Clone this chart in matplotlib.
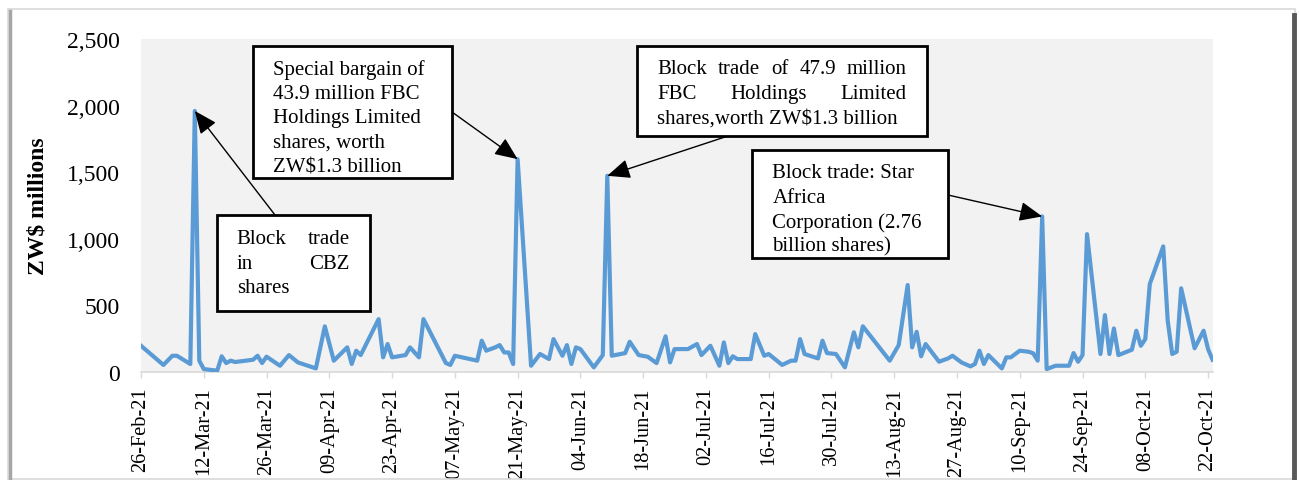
import matplotlib
matplotlib.use("Agg")
import matplotlib.pyplot as plt
import matplotlib.dates as mdates
import pandas as pd
from matplotlib.patches import Rectangle
from matplotlib.lines import Line2D
from matplotlib.ticker import FuncFormatter

plt.rcParams['font.family'] = ['Liberation Serif', 'DejaVu Serif']

# daily value traded, ZW$ millions
dates = [
    "2021-02-26", "2021-03-01", "2021-03-03", "2021-03-05", "2021-03-06", "2021-03-09",
    "2021-03-10", "2021-03-11", "2021-03-12", "2021-03-15", "2021-03-16", "2021-03-17",
    "2021-03-18", "2021-03-19", "2021-03-23", "2021-03-24", "2021-03-25", "2021-03-26",
    "2021-03-29", "2021-03-31", "2021-04-02", "2021-04-06", "2021-04-08", "2021-04-10",
    "2021-04-13", "2021-04-14", "2021-04-15", "2021-04-16", "2021-04-20", "2021-04-21",
    "2021-04-22", "2021-04-23", "2021-04-26", "2021-04-27", "2021-04-29", "2021-04-30",
    "2021-05-05", "2021-05-06", "2021-05-07", "2021-05-12", "2021-05-13", "2021-05-14",
    "2021-05-16", "2021-05-17", "2021-05-18", "2021-05-19", "2021-05-20", "2021-05-21",
    "2021-05-24", "2021-05-26", "2021-05-28", "2021-05-29", "2021-05-31", "2021-06-01",
    "2021-06-02", "2021-06-03", "2021-06-04", "2021-06-07", "2021-06-09", "2021-06-10",
    "2021-06-11", "2021-06-14", "2021-06-15", "2021-06-17", "2021-06-19", "2021-06-21",
    "2021-06-23", "2021-06-24", "2021-06-25", "2021-06-28", "2021-06-30", "2021-07-01",
    "2021-07-03", "2021-07-05", "2021-07-06", "2021-07-07", "2021-07-08", "2021-07-09",
    "2021-07-12", "2021-07-13", "2021-07-15", "2021-07-16", "2021-07-19", "2021-07-21",
    "2021-07-22", "2021-07-23", "2021-07-24", "2021-07-27", "2021-07-28", "2021-07-29",
    "2021-07-31", "2021-08-02", "2021-08-04", "2021-08-05", "2021-08-06", "2021-08-12",
    "2021-08-14", "2021-08-16", "2021-08-17", "2021-08-18", "2021-08-19", "2021-08-20",
    "2021-08-23", "2021-08-25", "2021-08-26", "2021-08-28", "2021-08-30", "2021-08-31",
    "2021-09-01", "2021-09-02", "2021-09-03", "2021-09-06", "2021-09-07", "2021-09-08",
    "2021-09-10", "2021-09-12", "2021-09-13", "2021-09-14", "2021-09-15", "2021-09-16",
    "2021-09-18", "2021-09-21", "2021-09-22", "2021-09-23", "2021-09-24", "2021-09-25",
    "2021-09-28", "2021-09-29", "2021-09-30", "2021-10-01", "2021-10-02", "2021-10-05",
    "2021-10-06", "2021-10-07", "2021-10-08", "2021-10-09", "2021-10-12", "2021-10-13",
    "2021-10-14", "2021-10-15", "2021-10-16", "2021-10-19", "2021-10-21", "2021-10-22",
    "2021-10-23",
]
values = [
    197, 110, 53, 122, 122, 60,
    1960, 85, 22, 10, 118, 67,
    85, 75, 92, 122, 67, 115,
    47, 127, 72, 27, 343, 85,
    185, 60, 160, 127, 397, 110,
    210, 110, 127, 185, 110, 397,
    67, 53, 122, 85, 235, 160,
    185, 202, 147, 147, 60, 1598,
    47, 135, 97, 247, 122, 202,
    60, 185, 172, 35, 127, 1473,
    122, 142, 227, 127, 115, 67,
    268, 72, 172, 172, 210, 127,
    197, 47, 222, 67, 118, 97,
    97, 285, 122, 135, 53, 85,
    85, 247, 135, 102, 235, 142,
    135, 35, 298, 185, 343, 85,
    202, 653, 185, 302, 118, 210,
    77, 102, 122, 72, 42, 60,
    160, 60, 127, 27, 110, 110,
    160, 152, 140, 85, 1168, 22,
    47, 47, 142, 77, 127, 1035,
    135, 427, 135, 327, 127, 167,
    310, 197, 247, 660, 943, 385,
    135, 152, 628, 178, 310, 172,
    92,
]

tick_start = "2021-02-26"
tick_end = "2021-10-22"
y_ticks = [0, 500, 1000, 1500, 2000, 2500]

notes = [
    ("2021-03-10", ["Block trade", "in CBZ", "shares"]),
    ("2021-05-21", ["Special bargain of", "43.9 million FBC", "Holdings Limited",
                    "shares, worth", "ZW$1.3 billion"]),
    ("2021-06-10", ["Block trade of 47.9 million", "FBC Holdings Limited",
                    "shares,worth ZW$1.3 billion"]),
    ("2021-09-15", ["Block trade: Star", "Africa", "Corporation (2.76",
                    "billion shares)"]),
]

W, H = 1299, 481


def fx(px):
    return px / W


def fy(py):
    return 1 - py / H


fig = plt.figure(figsize=(W / 100, H / 100), dpi=100)
ax = fig.add_axes([fx(141), fy(373), fx(1213) - fx(141), fy(40) - fy(373)])
ax.set_facecolor('#F2F2F2')

x = pd.to_datetime(dates)
ax.plot(x, values, color='#5B9BD5', lw=3.0, solid_joinstyle='round', zorder=3)

t0 = pd.Timestamp(tick_start)
ax.set_xlim(t0, t0 + pd.Timedelta(days=239.1))
ax.set_ylim(0, 2500)
ax.set_xticks(pd.date_range(tick_start, tick_end, freq='14D'))
ax.xaxis.set_major_formatter(mdates.DateFormatter('%d-%b-%y'))
ax.set_yticks(y_ticks)
ax.yaxis.set_major_formatter(FuncFormatter(lambda v, p: f"{int(v):,}"))
ax.tick_params(axis='x', labelsize=14.7, rotation=90, length=4.5, width=1,
               color='#D9D9D9', pad=6)
ax.tick_params(axis='y', labelsize=17, length=0, pad=15.5)
for lab in ax.get_xticklabels():
    lab.set_va('top')
for s in ['left', 'right', 'top']:
    ax.spines[s].set_visible(False)
ax.spines['bottom'].set_color('#D9D9D9')
ax.spines['bottom'].set_linewidth(1.2)
ax.set_ylabel('ZW$ millions', fontsize=17, fontweight='bold', va='center')
ax.yaxis.set_label_coords((38 - 141) / (1213 - 141), 0.5)

# outer frame with shadow
fig.add_artist(Rectangle((fx(8), fy(480)), fx(1295) - fx(8), fy(10) - fy(480),
                         transform=fig.transFigure, fill=False,
                         edgecolor='#D9D9D9', lw=1.2))
fig.add_artist(Line2D([fx(1294), fx(1294)], [fy(16), fy(481)],
                      transform=fig.transFigure, color='#595959', lw=3.5))
fig.add_artist(Line2D([fx(9.5), fx(9.5)], [fy(12), fy(481)],
                      transform=fig.transFigure, color='#A6A6A6', lw=2.5))

# note boxes: (left, top, right, bottom), text left, text right, line centres, justify flags
boxes = [
    ((217, 216, 370, 312), 236.7, 350, [239.3, 265, 288.3], [True, True, False]),
    ((253, 47, 452, 179), 272.7, 440, [70, 94.5, 118.5, 143, 167.5], [False] * 5),
    ((637, 47, 927, 137), 657.3, 906.7, [70, 94.3, 119], [True, True, False]),
    ((752, 151, 948, 259), 772.3, 925, [173.3, 198.3, 222.7, 247.3], [False] * 4),
]
# arrow start points on the box edges
starts = [(275, 216), (452, 113), (728, 137), (948, 196)]

txt = dict(fontsize=15, va='center', ha='left', zorder=6)
renderer = fig.canvas.get_renderer()
for (d, lines), (bx, tl, tr, centres, just), (sx, sy) in zip(notes, boxes, starts):
    l, t, r, b = bx
    fig.add_artist(Rectangle((fx(l), fy(b)), fx(r) - fx(l), fy(t) - fy(b),
                             transform=fig.transFigure, facecolor='white',
                             edgecolor='black', lw=2, zorder=5))
    for line, yc, j in zip(lines, centres, just):
        words = line.split()
        if not j or len(words) < 2:
            fig.text(fx(tl), fy(yc), line, **txt)
            continue
        arts = [fig.text(0, fy(yc), w, **txt) for w in words]
        widths = [a.get_window_extent(renderer).width for a in arts]
        gap = (tr - tl - sum(widths)) / (len(words) - 1)
        xp = tl
        for a, w in zip(arts, widths):
            a.set_x(fx(xp))
            xp += w + gap
    ax.annotate('', xy=(pd.Timestamp(d), values[dates.index(d)]),
                xytext=(fx(sx), fy(sy)), textcoords='figure fraction',
                arrowprops=dict(arrowstyle='-|>,head_length=0.7,head_width=0.3',
                                color='black', lw=1, mutation_scale=20,
                                shrinkA=0, shrinkB=0),
                annotation_clip=False, zorder=7)

fig.savefig('out.png', dpi=100)
